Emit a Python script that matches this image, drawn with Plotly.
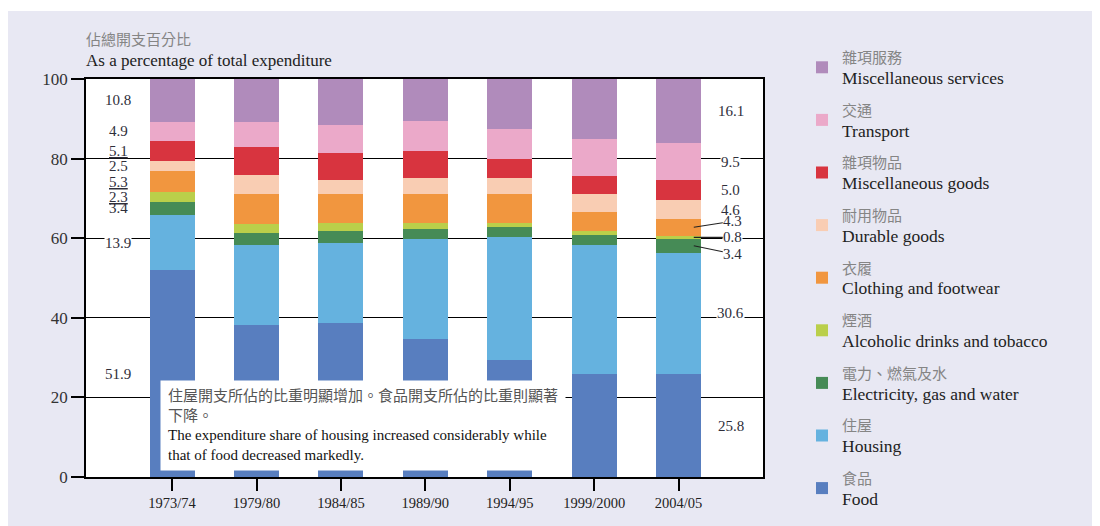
import plotly.graph_objects as go
import numpy as np

years = ["1973/74", "1979/80", "1984/85", "1989/90", "1994/95", "1999/2000", "2004/05"]

food          = [51.9, 38.3, 38.8, 34.6, 29.5, 26.0, 25.8]
housing       = [13.9, 20.0, 19.9, 25.2, 30.7, 32.2, 30.6]
electricity   = [3.4, 3.1, 3.2, 2.5, 2.6, 2.5, 3.4]
alcohol       = [2.3, 2.1, 2.0, 1.6, 1.1, 1.2, 0.8]
clothing      = [5.3, 7.7, 7.2, 7.2, 7.2, 4.6, 4.3]
durable       = [2.5, 4.6, 3.6, 4.0, 4.0, 4.6, 4.6]
misc_goods    = [5.1, 7.2, 6.7, 6.7, 4.8, 4.6, 5.0]
transport     = [4.9, 6.1, 7.1, 7.7, 7.6, 9.2, 9.5]
misc_services = [10.8, 10.9, 11.5, 10.5, 12.5, 15.1, 16.1]

names_zh = ["食品", "住屋", "電力、燃氣及水", "煙酒", "衣履", "耐用物品", "雜項物品", "交通", "雜項服務"]
names_en = ["Food", "Housing", "Electricity, gas and water", "Alcoholic drinks and tobacco",
            "Clothing and footwear", "Durable goods", "Miscellaneous goods", "Transport",
            "Miscellaneous services"]
colors = ["#587ebf", "#65b2df", "#468b56", "#bacf4a", "#f1963f", "#f9cdb3", "#d8343f", "#eba9c9", "#b08bbb"]

series = [food, housing, electricity, alcohol, clothing, durable, misc_goods, transport, misc_services]

SERIF = "Liberation Serif, Times New Roman, Noto Sans CJK TC, serif"
CJK_GREY = "#858585"
LAVENDER = "#e8e8f3"

fig = go.Figure()
n = len(series)
for k, (vals, zh, en, col) in enumerate(zip(series, names_zh, names_en, colors)):
    fig.add_trace(go.Bar(
        x=years, y=vals, marker=dict(color=col, line=dict(width=0)),
        name=(f"<span style='color:{CJK_GREY};font-size:15px'>{zh}</span><br>"
              f"<span style='font-size:17.5px'>{en}</span>"),
        legendgroup=en, legendrank=100 + (n - k),
    ))

shapes = [
    # thin white strip along the very top of the page
    dict(type="rect", xref="paper", yref="paper", x0=-0.2, x1=1.6, y0=1.1709, y1=1.2,
         fillcolor="white", line=dict(width=0), layer="below"),
]

annotations = []
arr = np.array(series)
cum = np.cumsum(arr, axis=0)
mids = cum - arr / 2.0

def near_grid(v):
    return abs(v - round(v / 20.0) * 20.0) < 1.5

underlined_first = {3, 4, 6}  # 2.3, 5.3, 5.1 appear underlined
lab_font = dict(family=SERIF, size=15, color="#2e2e3a")

# left labels (first year)
for i in range(n):
    v = arr[i, 0]
    txt = f"{v:.1f}"
    if i in underlined_first:
        txt = f"<u>{txt}</u>"
    annotations.append(dict(
        x=-0.64, y=mids[i, 0], xref="x", yref="y", text=txt, showarrow=False,
        font=lab_font, bgcolor="white" if near_grid(mids[i, 0]) else None, borderpad=0,
    ))

# right labels (last year), some with leader lines
leader_shift = {2: 8, 3: 0, 4: -6}
last = len(years) - 1
for i in range(n):
    v = arr[i, last]
    txt = f"{v:.1f}"
    bg = "white" if near_grid(mids[i, last]) else None
    if i in leader_shift:
        annotations.append(dict(
            x=last + 0.18, y=mids[i, last], xref="x", yref="y", text=txt,
            showarrow=True, arrowhead=0, arrowwidth=1.1, arrowcolor="#222",
            ax=39, ay=leader_shift[i], font=lab_font, bgcolor=bg, borderpad=0,
        ))
    else:
        annotations.append(dict(
            x=last + 0.62, y=mids[i, last], xref="x", yref="y", text=txt, showarrow=False,
            font=lab_font, bgcolor=bg, borderpad=0,
        ))

# axis title
annotations.append(dict(
    x=-0.003, y=1.123, xref="paper", yref="paper", xanchor="left", yanchor="top",
    text=(f"<span style='color:{CJK_GREY};font-size:15px'>佔總開支百分比</span><br>"
          "<span style='font-size:17px'>As a percentage of total expenditure</span>"),
    showarrow=False, align="left", font=dict(family=SERIF, size=16, color="#222"),
))

# note box
annotations.append(dict(
    x=0.1093, y=0.2437, xref="paper", yref="paper", xanchor="left", yanchor="top",
    text=("<span style='color:#555'>住屋開支所佔的比重明顯增加。食品開支所佔的比重則顯著</span><br>"
          "<span style='color:#555'>下降。</span><br>"
          "The expenditure share of housing increased considerably while<br>"
          "that of food decreased markedly."),
    showarrow=False, align="left", bgcolor="white", borderpad=7,
    font=dict(family=SERIF, size=15, color="#111"),
))

fig.update_layout(
    width=1100, height=526,
    margin=dict(l=78, r=345, t=71, b=57),
    barmode="stack", bargap=0.466,
    paper_bgcolor=LAVENDER, plot_bgcolor="white",
    shapes=shapes, annotations=annotations,
    showlegend=True,
    legend=dict(
        x=1.0576, y=1.098, xanchor="left", yanchor="top",
        traceorder="grouped", tracegroupgap=8, maxheight=520,
        font=dict(family=SERIF, size=16, color="#222"),
        bgcolor="rgba(0,0,0,0)", borderwidth=0,
    ),
    xaxis=dict(
        type="category", range=[-1.02, 7.0],
        showline=True, linecolor="black", linewidth=1.5, mirror=True,
        ticks="outside", ticklen=12, tickwidth=1.5, tickcolor="black",
        showgrid=False, zeroline=False,
        tickfont=dict(family=SERIF, size=14.5, color="#222"),
    ),
    yaxis=dict(
        range=[0, 100], dtick=20, tick0=0,
        showline=True, linecolor="black", linewidth=1.5, mirror=True,
        ticks="outside", ticklen=13, tickwidth=1.5, tickcolor="black",
        showgrid=True, gridcolor="black", gridwidth=1.3, zeroline=False,
        tickfont=dict(family=SERIF, size=17, color="#333"),
    ),
)

fig.write_html("out.html")
